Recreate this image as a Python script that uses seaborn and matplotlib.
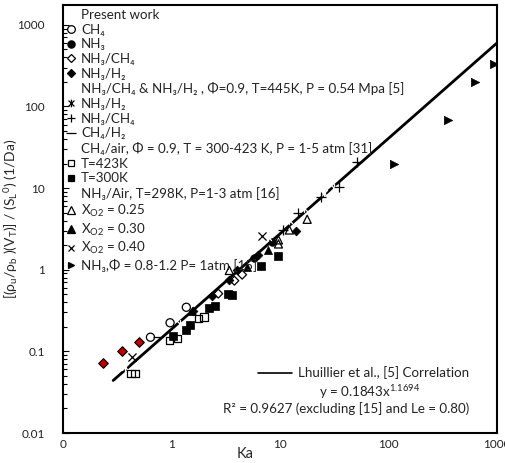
import matplotlib
matplotlib.use("Agg")
import matplotlib.pyplot as plt
import seaborn as sns
import pandas as pd
from matplotlib.path import Path
from matplotlib.lines import Line2D
from matplotlib.ticker import LogLocator, FixedLocator, FuncFormatter, NullFormatter

# ---------------- data ----------------
# Present work
ch4_ka = [0.64, 0.97, 1.37]
ch4_y = [0.149, 0.224, 0.347]
nh3_ka = [5.7, 8.5]
nh3_y = [1.40, 2.21]
nh3ch4_ka = [2.70, 3.80, 4.48]
nh3ch4_y = [0.509, 0.734, 0.869]
nh3h2_ka = [1.58, 2.37, 3.41, 4.03, 6.32, 13.9]
nh3h2_y = [0.316, 0.482, 0.755, 1.00, 1.52, 2.99]
# Le = 0.80 points (red)
le08_ka = [0.233, 0.353, 0.50]
le08_y = [0.0715, 0.101, 0.131]
# [5] NH3/CH4 & NH3/H2
ref5_h2_ka = [0.374, 1.19, 7.83, 12.0, 16.5, 25.2, 31.2]
ref5_h2_y = [0.065, 0.218, 2.52, 4.07, 5.70, 8.69, 10.0]
ref5_ch4_ka = [10.7, 14.8, 23.7, 34.9, 50.9]
ref5_ch4_y = [3.07, 4.96, 7.76, 10.4, 20.7]
ref5_ch4h2_ka = [0.755]
ref5_ch4h2_y = [0.148]
# [31] CH4/air
t423_ka = [0.422, 0.462, 0.96, 1.14, 1.78, 2.00]
t423_y = [0.0535, 0.0535, 0.136, 0.143, 0.252, 0.265]
t300_ka = [1.03, 1.36, 1.47, 2.23, 2.50, 3.34, 3.61, 6.75, 9.68]
t300_y = [0.154, 0.185, 0.210, 0.341, 0.364, 0.509, 0.487, 1.10, 1.48]
# [16] NH3/air
xo25_ka = [3.41, 9.68, 9.68, 12.2, 17.8]
xo25_y = [0.98, 2.07, 2.32, 3.07, 4.15]
xo30_ka = [1.55, 4.98, 7.78]
xo30_y = [0.31, 1.07, 1.75]
xo40_ka = [0.431, 6.89]
xo40_y = [0.086, 2.60]
# [15] NH3
ref15_ka = [112, 351, 631, 933]
ref15_y = [20.0, 67.5, 198, 332]
# Lhuillier et al. correlation line (end points)
corr_ka = [0.29, 1000]
corr_y = [0.044, 600]

xticks = [0.1, 1, 10, 100, 1000]
xticklabels = ["0", "1", "10", "100", "1000"]
yticks = [0.01, 0.1, 1, 10, 100, 1000]

# ---------------- style ----------------
sns.set_theme(style="white")
FAM = ["Lato", "DejaVu Sans"]
plt.rcParams["font.family"] = FAM
plt.rcParams["mathtext.fontset"] = "custom"
plt.rcParams["mathtext.rm"] = "Lato"
plt.rcParams["mathtext.it"] = "Lato:italic"
plt.rcParams["mathtext.bf"] = "Lato:bold"
plt.rcParams["mathtext.default"] = "regular"
plt.rcParams["text.color"] = "#222222"

FS = 9.6

fig = plt.figure(figsize=(5.06, 4.63), dpi=100)
ax = fig.add_axes([63 / 506, 30 / 463, 434 / 506, 428 / 463])

# asterisk-like star marker (x with vertical bar)
star = Path([(-1, -1), (1, 1), (-1, 1), (1, -1), (0, -1.3), (0, 1.3)],
            [Path.MOVETO, Path.LINETO, Path.MOVETO, Path.LINETO, Path.MOVETO, Path.LINETO])

K = "black"
S = 30


def open_pts(x, y, m, s=S):
    sns.scatterplot(x=x, y=y, marker=m, s=s, facecolor="none", edgecolor=K,
                    linewidth=0.9, ax=ax, zorder=3)


def filled_pts(x, y, m, s=S):
    sns.scatterplot(x=x, y=y, marker=m, s=s, color=K, edgecolor=K,
                    linewidth=0.5, ax=ax, zorder=3)


def line_pts(x, y, m, s=S):
    sns.scatterplot(x=x, y=y, marker=m, s=s, color=K, linewidth=0.9, ax=ax, zorder=3)


open_pts(ch4_ka, ch4_y, "o", 34)
filled_pts(nh3_ka, nh3_y, "o", 30)
open_pts(nh3ch4_ka, nh3ch4_y, "D", 20)
filled_pts(nh3h2_ka, nh3h2_y, "D", 20)
line_pts(ref5_h2_ka, ref5_h2_y, star, 40)
line_pts(ref5_ch4_ka, ref5_ch4_y, "+", 45)
line_pts(ref5_ch4h2_ka, ref5_ch4h2_y, "_", 45)
open_pts(t423_ka, t423_y, "s", 30)
filled_pts(t300_ka, t300_y, "s", 30)
open_pts(xo25_ka, xo25_y, "^", 34)
filled_pts(xo30_ka, xo30_y, "^", 34)
line_pts(xo40_ka, xo40_y, "x", 34)
filled_pts(ref15_ka, ref15_y, ">", 36)
sns.scatterplot(x=le08_ka, y=le08_y, marker="D", s=24, color="#c00000",
                edgecolor="black", linewidth=0.8, ax=ax, zorder=3)

sns.lineplot(x=corr_ka, y=corr_y, color=K, linewidth=2.0, ax=ax, zorder=2)

ax.set_xscale("log")
ax.set_yscale("log")
ax.set_xlim(0.1, 1000)
ax.set_ylim(0.01, 1750)

ax.xaxis.set_major_locator(FixedLocator(xticks))
ax.set_xticklabels(xticklabels)
ax.xaxis.set_minor_locator(FixedLocator([]))
ax.yaxis.set_major_locator(FixedLocator(yticks))
ax.yaxis.set_major_formatter(FuncFormatter(lambda v, p: f"{v:g}"))
ax.yaxis.set_minor_locator(LogLocator(base=10, subs=range(2, 10), numticks=20))
ax.yaxis.set_minor_formatter(NullFormatter())

ax.tick_params(axis="x", which="both", length=0, pad=4, labelsize=8.5, colors="#222222")
ax.tick_params(axis="y", which="major", direction="in", length=4, width=0.8,
               pad=13, labelsize=8.5, left=True, colors="#222222")
ax.tick_params(axis="y", which="minor", direction="in", length=3, width=0.8, left=True)
ax.tick_params(axis="y", which="both", color="black")

for sp in ax.spines.values():
    sp.set_visible(True)
    sp.set_color("black")
    sp.set_linewidth(1.5)

ax.set_xlabel("Ka", fontsize=10.5)
ax.xaxis.set_label_coords((245 - 63) / 434, -0.032)
ax.set_ylabel(r"[(ρ$_u$/ρ$_b$ )(V$_T$)] / (S$_L$$^0$) (1/Da)", fontsize=10)
ax.yaxis.set_label_coords(-0.099, 0.5)

# ---------------- legend ----------------
def h(marker=None, fill="none", ms=5.5, color=K, mew=0.9):
    if marker is None:
        return Line2D([], [], linestyle="none", marker=None)
    return Line2D([], [], linestyle="none", marker=marker, markersize=ms,
                  markerfacecolor=fill, markeredgecolor=color, color=color,
                  markeredgewidth=mew)


handles = [
    h(), h("o", "none", 5.5), h("o", K, 5.2), h("D", "none", 4.0), h("D", K, 4.0),
    h(), h(star, "none", 5.5), h("+", "none", 6.0), h("_", "none", 6.5),
    h(), h("s", "none", 5.0), h("s", K, 5.0),
    h(), h("^", "none", 5.5), h("^", K, 5.5), h("x", "none", 5.0), h(">", K, 4.0),
]
labels = [
    "Present work", "CH₄", "NH₃", "NH₃/CH₄", "NH₃/H₂",
    "NH₃/CH₄ & NH₃/H₂ , Φ=0.9, T=445K, P = 0.54 Mpa [5]",
    "NH₃/H₂", "NH₃/CH₄", "CH₄/H₂",
    "CH₄/air, Φ = 0.9, T = 300-423 K, P = 1-5 atm [31]",
    "T=423K", "T=300K",
    "NH₃/Air, T=298K, P=1-3 atm [16]",
    r"X$_{O2}$ = 0.25", r"X$_{O2}$ = 0.30", r"X$_{O2}$ = 0.40",
    "NH₃,Φ = 0.8-1.2 P= 1atm [15]",
]
leg = ax.legend(handles, labels, loc="upper left", bbox_to_anchor=(0.0, 1.0),
                borderaxespad=0.0, borderpad=0.3, frameon=False,
                handlelength=0.55, handletextpad=0.5, labelspacing=0.2,
                fontsize=FS)

# ---------------- correlation annotation ----------------
ax.plot([(258 - 63) / 434, (292 - 63) / 434], [(433 - 373) / 428] * 2,
        transform=ax.transAxes, color=K, linewidth=1.2, clip_on=False)
ax.text((298 - 63) / 434, (433 - 373) / 428, "Lhuillier et al., [5] Correlation",
        transform=ax.transAxes, ha="left", va="center", fontsize=FS)
ax.text((319 - 63) / 434, (433 - 392) / 428, r"y = 0.1843x$^{1.1694}$",
        transform=ax.transAxes, ha="left", va="center", fontsize=FS)
ax.text((223 - 63) / 434, (433 - 409) / 428, "R² = 0.9627 (excluding [15] and Le = 0.80)",
        transform=ax.transAxes, ha="left", va="center", fontsize=FS)

fig.savefig("out.png", dpi=100)
